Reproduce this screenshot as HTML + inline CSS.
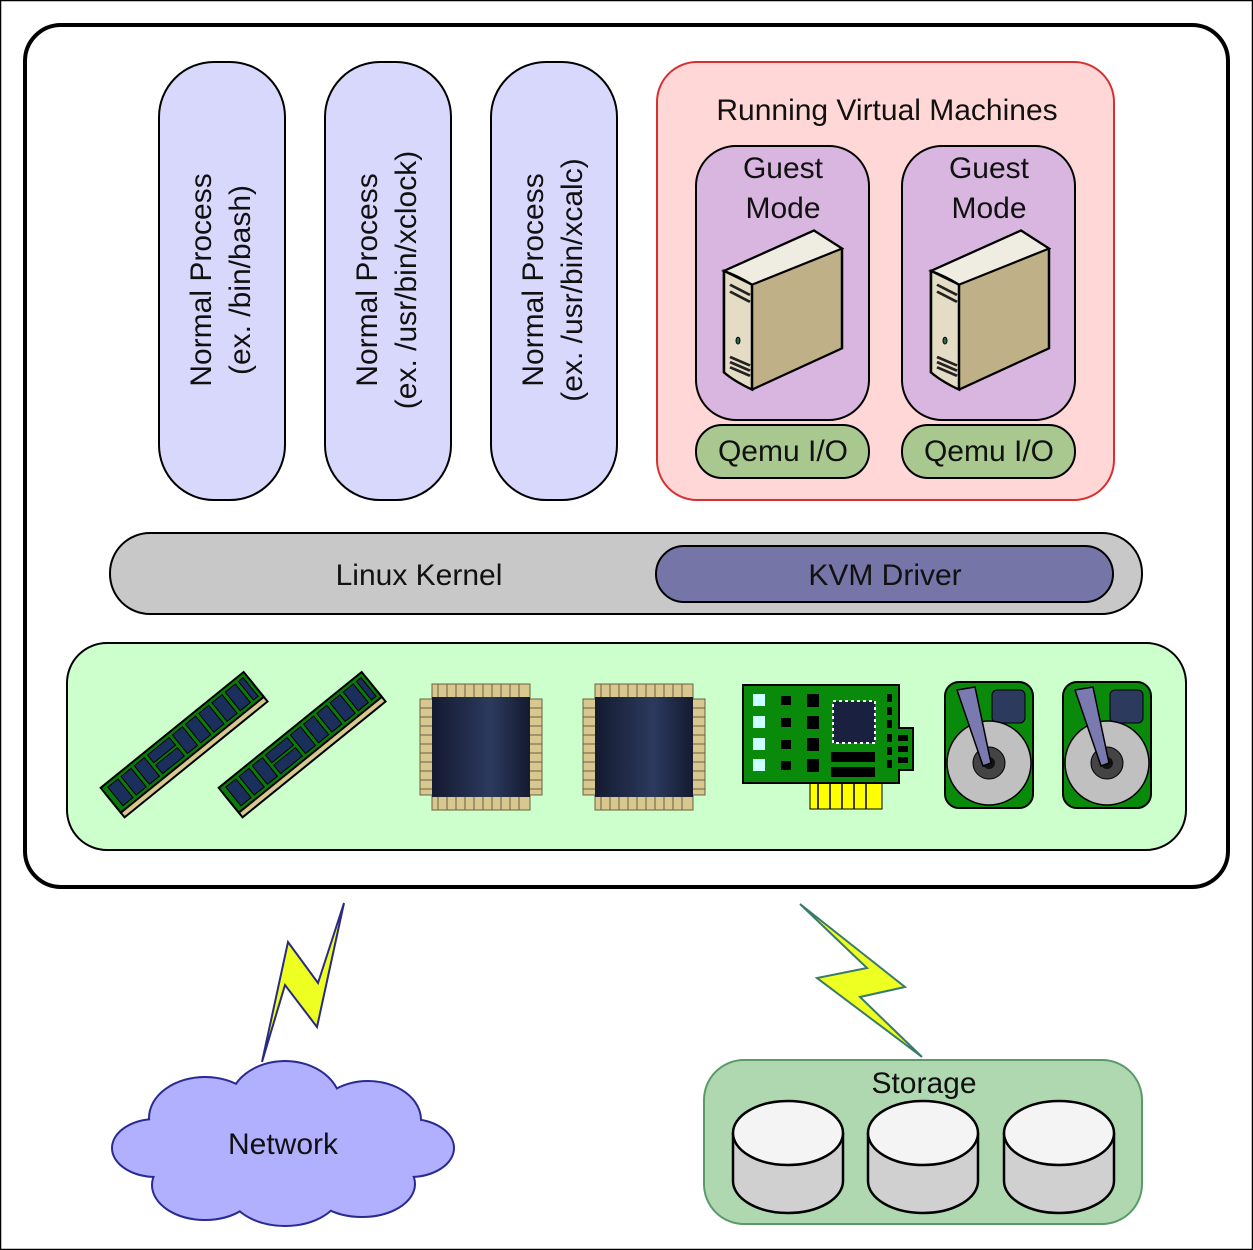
<!DOCTYPE html>
<html><head><meta charset="utf-8"><style>
html,body{margin:0;padding:0;background:#fff}
svg{display:block}
text{font-family:"Liberation Sans",sans-serif;fill:#111}
</style></head><body>
<svg width="1253" height="1250" viewBox="0 0 1253 1250" xmlns="http://www.w3.org/2000/svg">
<defs>
<linearGradient id="chip" x1="0" x2="1" y1="0" y2="0">
<stop offset="0" stop-color="#141a30"/><stop offset="0.6" stop-color="#2c3a5e"/><stop offset="1" stop-color="#141a30"/>
</linearGradient>
<g id="ram">
<rect x="-92" y="-14" width="184" height="30" fill="#d8c890" stroke="#000" stroke-width="2"/>
<rect x="-92" y="-22" width="184" height="32" fill="#0a7a0a" stroke="#000" stroke-width="2"/>
<g fill="#1a2f5c" stroke="#000" stroke-width="1">
<rect x="-86" y="-18" width="13" height="24"/><rect x="-69" y="-18" width="13" height="24"/><rect x="-52" y="-18" width="13" height="24"/>
<rect x="-35" y="-18" width="28" height="10"/><rect x="-35" y="-5" width="28" height="11"/>
<rect x="-3" y="-18" width="13" height="24"/><rect x="14" y="-18" width="13" height="24"/><rect x="31" y="-18" width="13" height="24"/>
<rect x="48" y="-18" width="13" height="24"/><rect x="65" y="-18" width="13" height="24"/><rect x="82" y="-18" width="6" height="24"/>
</g>
</g>
<g id="chipg">
<g fill="#d8c890" stroke="#6a6040" stroke-width="1">
<rect x="-49" y="-13" width="98" height="126"/>
<rect x="-61" y="2" width="122" height="96"/>
</g>
<g stroke="#6a6040" stroke-width="1">
<path d="M-43,-13v126M-34,-13v126M-25,-13v126M-16,-13v126M-7,-13v126M2,-13v126M11,-13v126M20,-13v126M29,-13v126M38,-13v126"/>
<path d="M-61,11h122M-61,20h122M-61,29h122M-61,38h122M-61,47h122M-61,56h122M-61,65h122M-61,74h122M-61,83h122M-61,92h122"/>
</g>
<rect x="-49" y="0" width="98" height="100" fill="url(#chip)"/>
</g>
<g id="hdd">
<rect x="0" y="0" width="88" height="126" rx="14" fill="#0a8a0a" stroke="#000" stroke-width="2"/>
<rect x="47" y="8" width="33" height="33" rx="5" fill="#2c3a5e" stroke="#000"/>
<circle cx="44" cy="81" r="42" fill="#c0c0c0" stroke="#000" stroke-width="1.5"/>
<circle cx="44" cy="81" r="16" fill="#444" stroke="#000"/>
<circle cx="44" cy="81" r="6" fill="#111"/>
<polygon points="12,8 30,5 46,81 38,84" fill="#7a7ab0" stroke="#000" stroke-width="1.5"/>
</g>
<g id="server">
<path d="M0,22 L90,-25 L118,-4 L118,112 L28,160 Q10,150 0,140 Z" fill="#c0b088" stroke="#000" stroke-width="2.5"/>
<path d="M0,22 L28,38 L28,160 Q10,150 0,140 Z" fill="#e4dcc4" stroke="#000" stroke-width="2.5"/>
<path d="M0,22 L90,-25 L118,-4 L28,38 Q14,28 0,22 Z" fill="#efece2" stroke="#000" stroke-width="2.5"/>
<path d="M6,38 L26,50 M6,46 L26,58 M6,122 L26,132 M6,128 L26,138 M6,134 L26,144" stroke="#222" stroke-width="3"/>
<ellipse cx="14" cy="103" rx="2" ry="4" fill="#2a6a4a" stroke="#000"/>
</g>
<g id="cyl">
<path d="M-55,0 V48 A55,32 0 0 0 55,48 V0" fill="#d0d0d0" stroke="#000" stroke-width="2.5"/>
<ellipse cx="0" cy="0" rx="55" ry="32" fill="#f4f4f4" stroke="#000" stroke-width="2.5"/>
</g>
<g id="cloudshape">
<ellipse cx="283" cy="1145" rx="140" ry="58"/>
<ellipse cx="205" cy="1118" rx="55" ry="40"/>
<ellipse cx="285" cy="1105" rx="55" ry="43"/>
<ellipse cx="368" cy="1120" rx="52" ry="38"/>
<ellipse cx="156" cy="1148" rx="43" ry="28"/>
<ellipse cx="410" cy="1148" rx="43" ry="28"/>
<ellipse cx="205" cy="1185" rx="52" ry="34"/>
<ellipse cx="285" cy="1190" rx="55" ry="35"/>
<ellipse cx="362" cy="1184" rx="52" ry="32"/>
</g>
</defs>

<rect x="0.5" y="0.5" width="1252" height="1249" fill="#fff" stroke="#000" stroke-width="1.5"/>
<rect x="25" y="25" width="1203" height="862" rx="36" fill="#fff" stroke="#000" stroke-width="4"/>

<g fill="#d8d8fc" stroke="#000" stroke-width="2">
<rect x="159" y="62" width="126" height="438" rx="55"/>
<rect x="325" y="62" width="126" height="438" rx="55"/>
<rect x="491" y="62" width="126" height="438" rx="55"/>
</g>
<g font-size="30" text-anchor="middle">
<text transform="translate(211,280) rotate(-90)">Normal Process</text>
<text transform="translate(250,280) rotate(-90)">(ex. /bin/bash)</text>
<text transform="translate(377,280) rotate(-90)">Normal Process</text>
<text transform="translate(416,280) rotate(-90)">(ex. /usr/bin/xclock)</text>
<text transform="translate(543,280) rotate(-90)">Normal Process</text>
<text transform="translate(582,280) rotate(-90)">(ex. /usr/bin/xcalc)</text>
</g>

<rect x="657" y="62" width="457" height="438" rx="40" fill="#ffd7d7" stroke="#d83030" stroke-width="2"/>
<text x="887" y="120" font-size="30" text-anchor="middle">Running Virtual Machines</text>
<g fill="#d8b6e0" stroke="#000" stroke-width="2">
<rect x="696" y="146" width="173" height="274" rx="40"/>
<rect x="902" y="146" width="173" height="274" rx="40"/>
</g>
<g font-size="30" text-anchor="middle">
<text x="783" y="178">Guest</text><text x="783" y="218">Mode</text>
<text x="989" y="178">Guest</text><text x="989" y="218">Mode</text>
</g>
<use href="#server" transform="translate(724,252) scale(1,0.86)"/>
<use href="#server" transform="translate(931,252) scale(1,0.86)"/>
<g fill="#a8c890" stroke="#000" stroke-width="2">
<rect x="696" y="425" width="173" height="53" rx="26"/>
<rect x="902" y="425" width="173" height="53" rx="26"/>
</g>
<g font-size="30" text-anchor="middle">
<text x="783" y="461">Qemu I/O</text><text x="989" y="461">Qemu I/O</text>
</g>

<rect x="110" y="533" width="1032" height="81" rx="40" fill="#c8c8c8" stroke="#000" stroke-width="2"/>
<text x="419" y="585" font-size="30" text-anchor="middle">Linux Kernel</text>
<rect x="656" y="546" width="457" height="56" rx="28" fill="#7575a8" stroke="#000" stroke-width="2"/>
<text x="885" y="585" font-size="30" text-anchor="middle">KVM Driver</text>

<rect x="67" y="643" width="1119" height="207" rx="40" fill="#ccffcc" stroke="#000" stroke-width="2"/>
<use href="#ram" transform="translate(186,747) rotate(-39)"/>
<use href="#ram" transform="translate(304,747) rotate(-39)"/>
<use href="#chipg" transform="translate(481,697)"/>
<use href="#chipg" transform="translate(644,697)"/>
<g>
<rect x="810" y="781" width="72" height="28" fill="#ffff00" stroke="#000"/>
<path d="M818,783v26M830,783v26M842,783v26M854,783v26M866,783v26" stroke="#000" stroke-width="1.5"/>
<path d="M743,685 H899 V728 H913 V770 H899 V783 H743 Z" fill="#0a8a0a" stroke="#000" stroke-width="2"/>
<g fill="#ccffff"><rect x="753" y="694" width="12" height="12"/><rect x="753" y="716" width="12" height="12"/><rect x="753" y="738" width="12" height="12"/><rect x="753" y="759" width="12" height="12"/></g>
<g fill="#000"><rect x="781" y="696" width="10" height="9"/><rect x="781" y="718" width="10" height="9"/><rect x="781" y="740" width="10" height="9"/><rect x="781" y="761" width="10" height="9"/>
<rect x="807" y="694" width="12" height="13"/><rect x="807" y="716" width="12" height="13"/><rect x="807" y="738" width="12" height="13"/><rect x="807" y="759" width="12" height="13"/>
<rect x="831" y="752" width="44" height="10"/><rect x="831" y="767" width="44" height="10"/>
<rect x="887" y="694" width="5" height="8"/><rect x="887" y="707" width="5" height="8"/><rect x="887" y="720" width="5" height="8"/><rect x="887" y="734" width="5" height="8"/><rect x="887" y="747" width="5" height="8"/><rect x="887" y="760" width="5" height="8"/>
<rect x="898" y="735" width="10" height="6"/><rect x="898" y="746" width="10" height="6"/><rect x="898" y="757" width="10" height="6"/></g>
<rect x="833" y="701" width="42" height="42" fill="#1a2040" stroke="#fff" stroke-width="2" stroke-dasharray="3,3"/>
</g>
<use href="#hdd" x="945" y="682"/>
<use href="#hdd" x="1063" y="682"/>

<polygon points="344,903 318,983 288,942 262,1062 285,985 317,1027" fill="#eeff22" stroke="#2a2a80" stroke-width="2"/>
<polygon points="800,904 905,987 860,997 922,1057 817,978 867,968" fill="#eeff22" stroke="#3a7a6a" stroke-width="2"/>

<use href="#cloudshape" fill="#b0b0ff" stroke="#2a2a90" stroke-width="4"/>
<use href="#cloudshape" fill="#b0b0ff"/>
<text x="283" y="1154" font-size="30" text-anchor="middle">Network</text>

<rect x="704" y="1060" width="438" height="164" rx="40" fill="#b0d8b0" stroke="#5a9a6a" stroke-width="2"/>
<text x="924" y="1093" font-size="30" text-anchor="middle">Storage</text>
<use href="#cyl" x="788" y="1133"/>
<use href="#cyl" x="923" y="1133"/>
<use href="#cyl" x="1059" y="1133"/>
</svg>
</body></html>
